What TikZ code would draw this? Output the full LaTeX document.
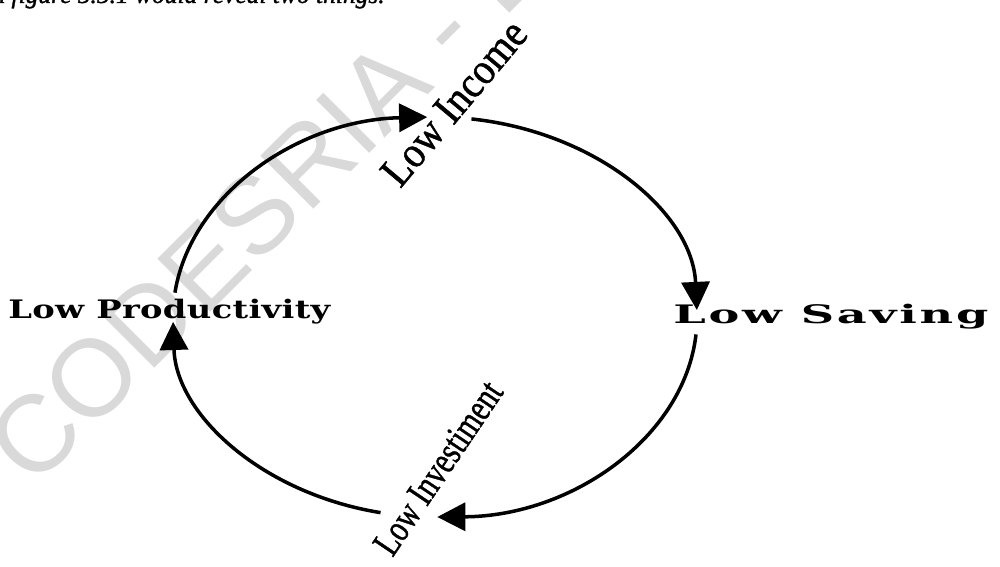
\documentclass[tikz,border=0pt]{standalone}
\usepackage{fontspec}
\setmainfont{Liberation Serif}
\newfontfamily\heavyfont{Liberation Serif}[FakeBold=1.2]
\newfontfamily\widefont{DejaVu Serif}[LetterSpace=1]
\newfontfamily\spacedfont{DejaVu Serif}[LetterSpace=6]
\newfontfamily\markfont{Liberation Sans}
\usetikzlibrary{arrows.meta,calc}
\definecolor{WM}{HTML}{D9D9D9}

\begin{document}
\begin{tikzpicture}[x=0.02cm, y=0.02cm,
    cyc/.style={line width=2pt, -{Triangle[length=16pt,width=16pt]}},
    tilted/.style={inner sep=0pt},
    wide/.style={inner sep=0pt, anchor=base west}]
    \useasboundingbox (0,0) rectangle (1000,-567);
    \clip (0,0) rectangle (1000,-567);
    \node[anchor=base west, rotate=45, text=WM, inner sep=0pt,
          font=\markfont\fontsize{62}{66}\selectfont] (mark) at (33,-490) {CODESRIA - LIBRARY};
    \node[anchor=base east, inner sep=0pt,
          font=\heavyfont\itshape\fontsize{14.5}{17}\selectfont] (head) at (385,-3) {in figure 5.5.1 would reveal two things.};
    \coordinate (c) at (435,-317);
    \node[tilted, rotate=50, font=\heavyfont\fontsize{25}{28}\selectfont] (inc) at (454,-103) {\scalebox{0.9}[1]{Low Income}};
    \node[tilted, rotate=56, font=\heavyfont\fontsize{22}{24}\selectfont] (inv) at (438,-468) {\scalebox{0.76}[1]{Low Investiment}};
    \node[wide] (sav) at (673,-323) {\resizebox{6.3cm}{\height}{\spacedfont\bfseries\fontsize{14.5}{16}\selectfont Low Saving}};
    \node[wide] (prod) at (8,-318) {\resizebox{6.44cm}{\height}{\widefont\bfseries\fontsize{14.5}{16}\selectfont Low Productivity}};
    \coordinate (inc-out) at ($(c)+(82:262 and 200)$);
    \coordinate (sav-out) at ($(c)+(-5:262 and 200)$);
    \coordinate (inv-out) at ($(c)+(-102:262 and 200)$);
    \coordinate (prod-out) at ($(c)+(173:262 and 200)$);
    \draw[cyc] (inc-out) arc[start angle=82, end angle=2, x radius=262, y radius=200];
    \draw[cyc] (sav-out) arc[start angle=-5, end angle=-89.5, x radius=262, y radius=200];
    \draw[cyc] (inv-out) arc[start angle=-102, end angle=-178.6, x radius=262, y radius=200];
    \draw[cyc] (prod-out) arc[start angle=173, end angle=91.7, x radius=262, y radius=200];
\end{tikzpicture}
\end{document}
